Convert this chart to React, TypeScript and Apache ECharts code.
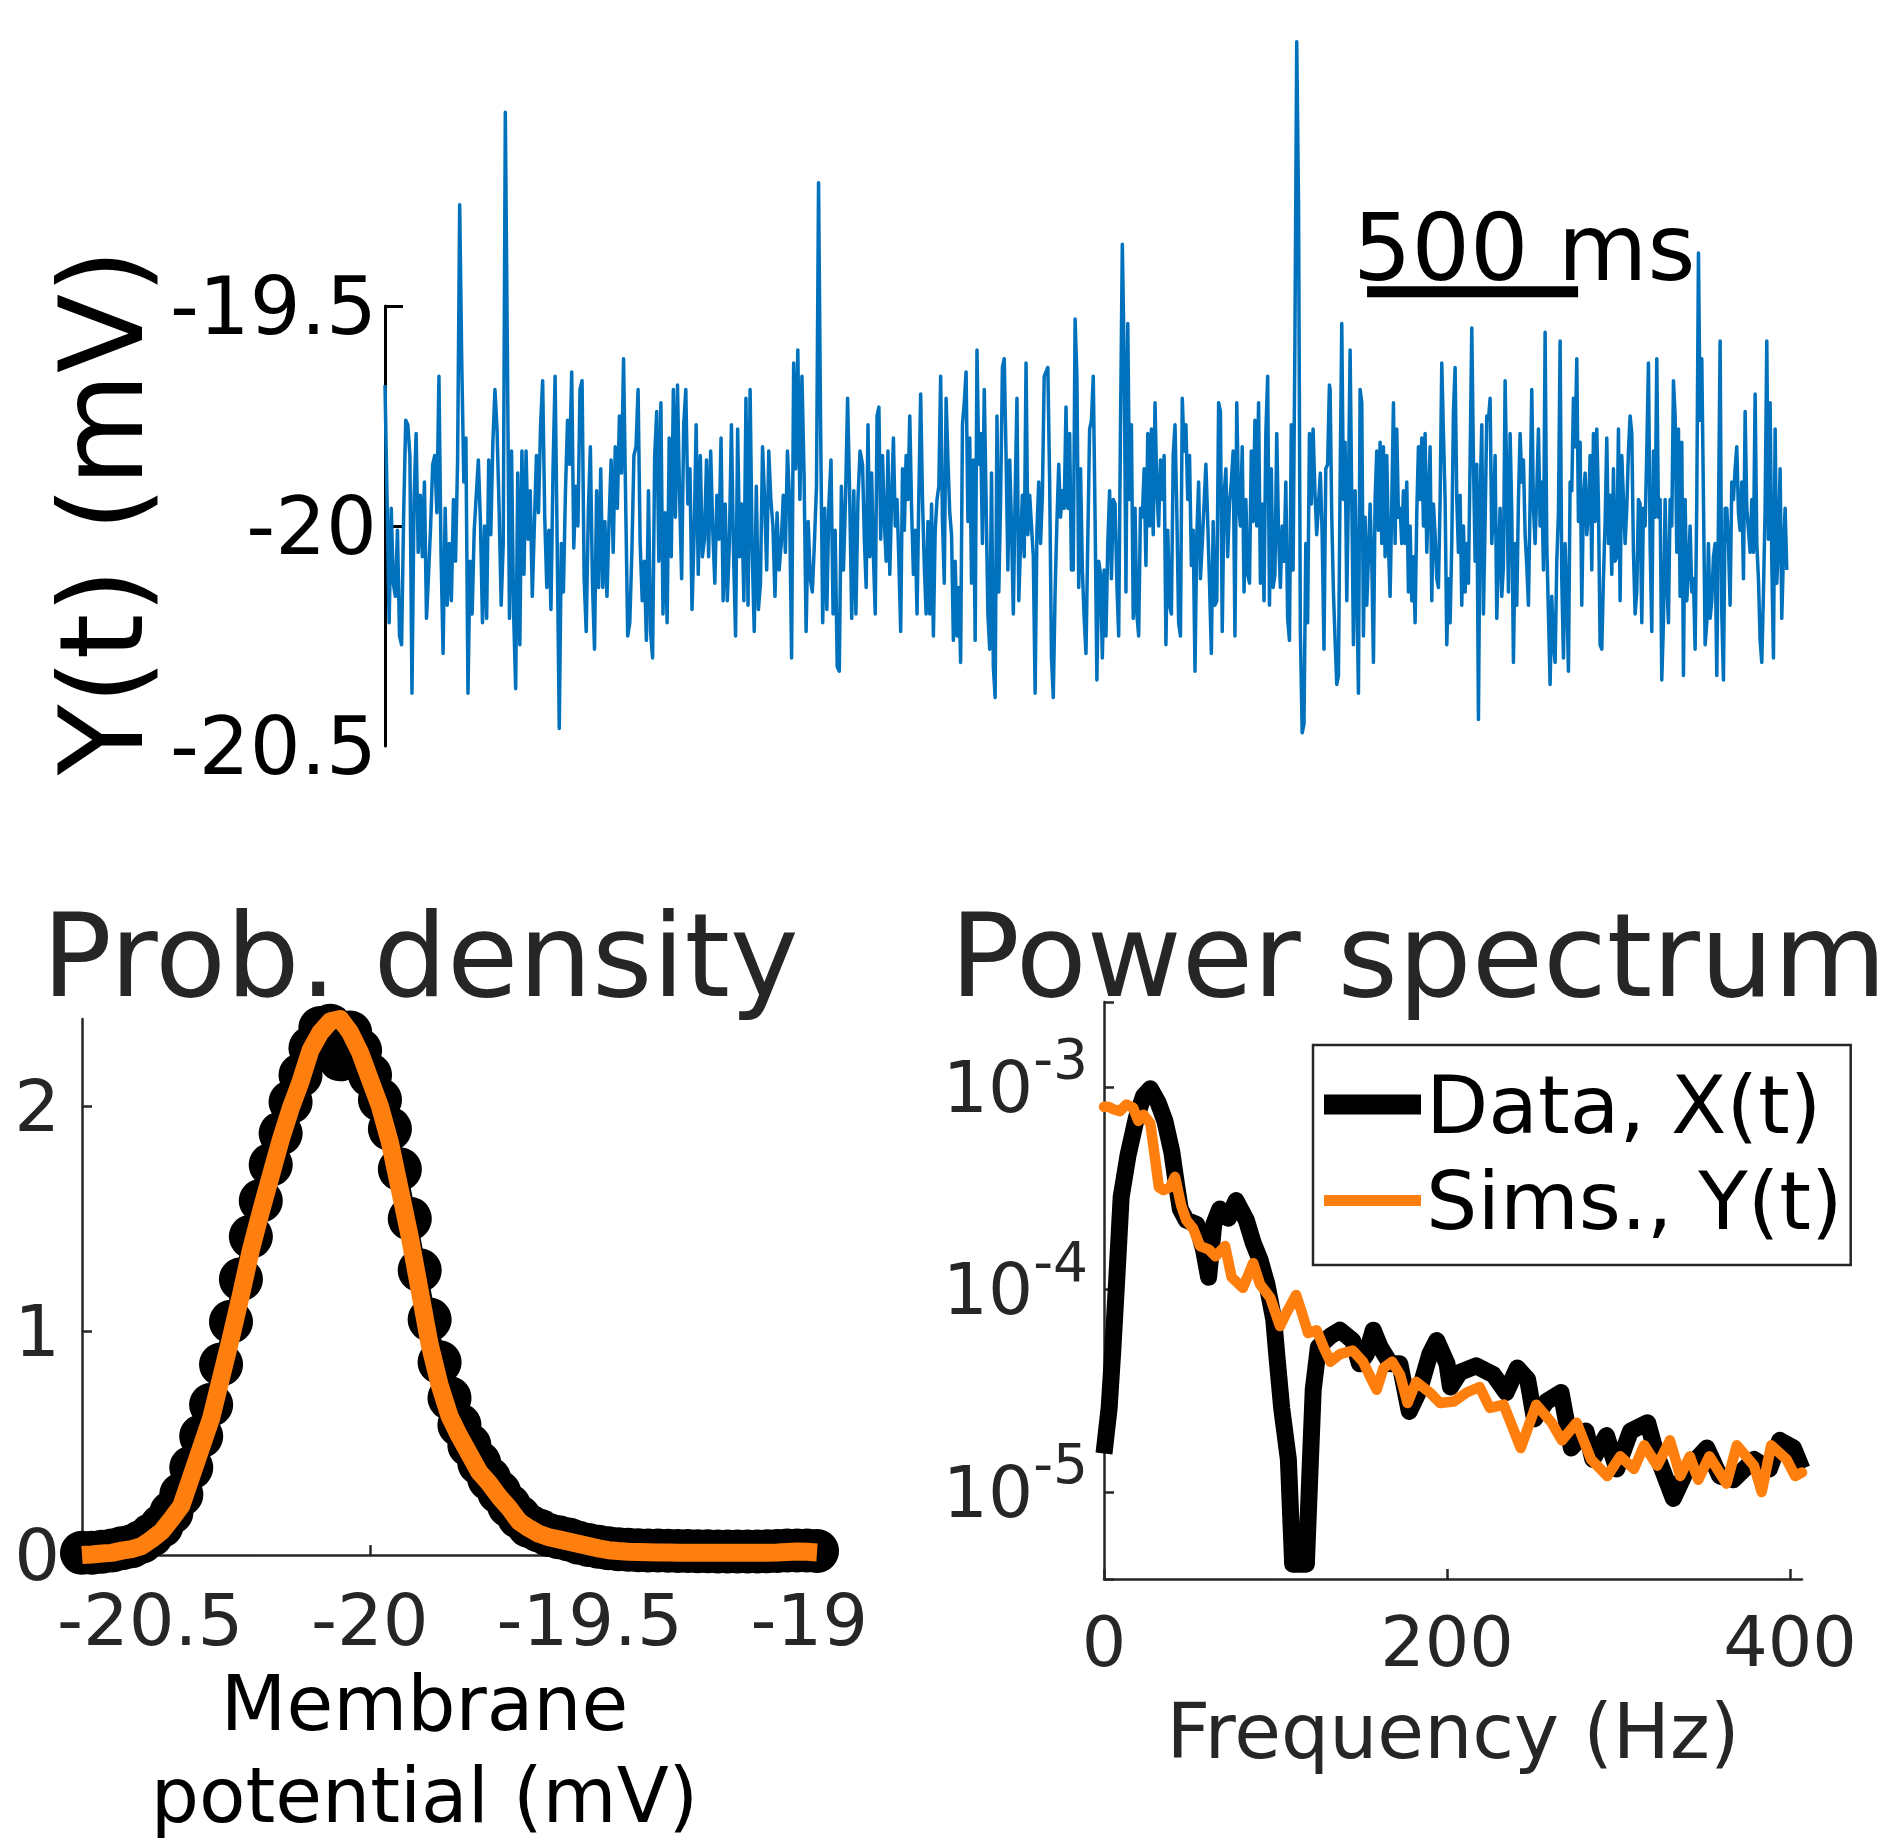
import React, { useEffect, useRef } from 'react';
import * as echarts from 'echarts';

const FONT = 'DejaVu Sans';
const GREY = '#262626';
const BLUE = '#0072BD';
const ORANGE = '#FF7F0E';

// ---- Top panel: simulated trace Y(t) in mV, three consecutive stretches ----
const traceA = [
  -19.68, -19.94, -20.22, -19.96, -20.13, -20.16, -20.01, -20.25, -20.27, -19.97,
  -19.76, -19.77, -19.84, -20.38, -19.94, -19.79, -20.06, -19.93, -20.07, -19.90,
  -20.21, -20.11, -20.00, -19.86, -19.84, -19.97, -19.66, -20.06, -20.29, -19.96,
  -20.18, -20.04, -20.17, -19.94, -20.08, -19.85, -19.27, -19.63, -19.90, -19.80,
  -20.38, -20.08, -20.20, -20.01, -19.93, -19.85, -19.99, -20.22, -20.00, -20.21,
  -19.85, -20.02, -19.81, -19.69, -19.78, -19.96, -20.18, -20.04, -19.06, -19.61,
  -20.21, -19.83, -20.20, -20.37, -19.88, -20.27, -19.83, -20.11, -19.83, -20.03,
  -19.92, -20.16, -20.00, -19.84, -19.97, -19.77, -19.67, -19.98, -20.14, -20.01,
  -20.19, -19.87, -19.66, -20.04, -20.46, -20.04, -20.15, -19.92, -19.76, -19.86,
  -19.65, -20.05, -19.91, -20.00, -19.69, -19.67, -20.12, -20.24, -19.97, -19.82,
  -20.13, -20.28, -19.92, -20.14, -19.87, -20.14, -19.99, -20.16, -19.99, -19.85,
  -20.06, -19.82, -19.96, -19.75, -19.88, -19.62, -19.94, -20.25, -20.22, -20.06,
  -19.84, -19.82, -19.69, -20.04, -20.17, -20.08, -20.26, -19.92, -20.24, -20.30,
  -19.84, -19.74, -20.08, -19.72, -20.20, -19.97, -20.22, -19.80, -20.07, -19.69,
  -19.98, -19.68, -19.93, -20.12, -19.77, -19.69, -19.95, -19.87, -20.19, -20.02,
  -19.77, -20.11, -19.84, -20.07, -20.03, -19.85, -20.07, -19.83, -20.01, -20.13,
  -19.93, -20.03, -19.80, -20.17, -19.95, -20.17, -20.04, -19.77, -20.06, -20.25,
  -19.78, -20.07, -19.95, -20.17, -19.71, -20.18, -19.69, -20.06, -20.24, -19.91,
  -20.19, -20.13, -19.82, -19.94, -20.10, -19.83, -19.94, -20.00, -20.16, -19.97,
  -20.10, -20.04, -19.93, -20.06, -19.83, -19.94, -20.30, -19.63, -19.87, -19.60,
  -19.94, -19.66, -19.88, -20.24, -19.99, -20.12, -20.15, -20.04, -19.91, -19.22,
  -19.78, -20.22, -19.96, -20.19, -19.95, -19.85, -20.20, -20.01, -20.32, -20.33,
  -19.91, -20.10, -19.94, -19.71, -19.93, -20.21, -19.92, -20.20, -19.94, -19.83,
];
const traceASpan = [0, 1125.6];

const traceB = [
  -19.83, -19.86, -20.03, -20.14, -19.77, -20.07, -19.88, -20.07, -20.20, -19.75,
  -19.73, -20.03, -19.84, -19.99, -20.08, -19.83, -20.11, -19.94, -19.80, -20.00,
  -19.94, -20.08, -20.24, -19.87, -20.01, -19.84, -19.94, -19.75, -19.96, -20.11,
  -20.01, -20.20, -19.93, -19.70, -19.94, -20.09, -20.20, -19.99, -20.20, -19.95,
  -20.25, -20.01, -19.94, -19.91, -19.66, -19.99, -20.13, -19.71, -19.85, -19.97,
  -20.02, -20.26, -20.08, -20.25, -20.14, -20.31, -19.77, -19.72, -19.65, -19.99,
  -19.80, -20.13, -19.85, -20.26, -19.60, -19.86, -19.79, -20.04, -19.69, -19.94,
  -20.20, -20.28, -19.88, -20.32, -20.39, -19.75, -20.15, -19.94, -19.64, -19.62,
  -19.84, -20.10, -19.85, -20.00, -20.20, -19.93, -19.71, -20.17, -20.04, -19.93,
  -20.07, -19.63, -20.02, -19.93, -20.00, -20.07, -20.38, -20.01, -19.90, -20.04,
  -19.93, -19.66, -19.65, -19.64, -19.90, -20.30, -20.39, -20.15, -19.99, -19.86,
  -19.98, -19.92, -19.96, -19.73, -19.96, -19.79, -20.10, -20.10, -19.53, -19.66,
  -20.14, -19.87, -20.10, -20.21, -20.29, -20.03, -19.78, -19.76, -19.66, -19.98,
  -20.35, -20.08, -20.11, -20.30, -20.10, -20.25, -20.04, -19.92, -20.12, -19.94,
  -19.95, -20.13, -20.25, -19.77, -19.36, -19.62, -20.15, -19.54, -19.94, -19.77,
  -20.21, -19.96, -20.20, -20.25, -19.96, -19.98, -19.87, -20.09, -19.79, -20.00,
  -19.78, -20.02, -19.72, -19.92, -20.00, -19.85, -19.94, -19.84, -20.27, -20.01,
  -20.18, -20.20, -19.84, -19.77, -19.97, -20.22, -20.25, -19.71, -19.83, -19.77,
  -19.94, -19.84, -20.09, -20.01, -20.33, -20.02, -19.90, -20.12, -20.04, -19.95,
  -19.86, -19.99, -20.13, -20.29, -19.99, -20.18, -20.17, -19.72, -19.74, -20.24,
  -19.93, -19.87, -20.07, -19.95, -19.90, -19.83, -20.25, -19.72, -19.95, -20.00,
  -19.82, -20.15, -19.94, -20.11, -20.13, -19.83, -19.99, -19.76, -20.00, -19.72,
  -20.13, -19.95, -20.17, -19.79, -19.66, -20.18, -19.87, -20.14, -20.11, -19.79,
  -20.02, -20.14, -20.00, -20.08, -19.90, -20.21, -20.26, -19.77, -20.10, -19.58,
  -18.90, -19.27, -20.24, -20.47, -20.45, -20.04, -20.22, -19.79, -19.95, -19.78,
  -19.92, -20.02, -19.95, -19.88, -20.02, -20.28, -19.87, -19.86, -19.68,
];
const traceBSpan = [1127.2, 2237.8];

const traceC = [
  -19.69, -19.98, -20.15, -20.26, -20.36, -20.34, -19.90, -19.54, -19.94, -19.81,
  -20.17, -19.92, -19.60, -19.94, -20.27, -19.92, -20.13, -20.38, -19.69, -19.72,
  -20.25, -19.98, -20.18, -20.07, -19.95, -20.08, -20.31, -19.94, -19.83, -20.01,
  -19.81, -20.04, -19.82, -20.07, -19.84, -20.04, -20.16, -19.95, -19.72, -20.04,
  -19.78, -19.98, -19.96, -20.04, -19.92, -20.04, -19.90, -20.15, -20.00, -20.17,
  -20.07, -20.22, -19.97, -19.82, -19.94, -19.80, -20.00, -19.79, -20.06, -19.94,
  -19.82, -20.17, -19.95, -20.02, -20.12, -20.14, -19.94, -19.63, -19.79, -19.94,
  -20.27, -20.12, -20.22, -20.04, -19.74, -19.64, -19.94, -20.06, -19.93, -20.18,
  -20.00, -20.15, -20.04, -20.13, -19.85, -19.55, -19.85, -20.08, -19.86, -20.44,
  -19.94, -19.77, -20.20, -19.99, -19.75, -19.76, -19.71, -20.04, -19.97, -19.84,
  -20.21, -20.07, -19.96, -20.16, -20.09, -19.67, -19.90, -20.15, -19.79, -19.97,
  -20.31, -20.04, -20.18, -19.94, -19.79, -19.90, -19.85, -20.02, -20.09, -20.18,
  -19.94, -19.69, -19.96, -20.04, -19.92, -19.78, -20.00, -19.90, -20.10, -19.56,
  -20.04, -20.20, -20.36, -20.16, -20.27, -20.31, -20.08, -19.97, -19.58, -20.12,
  -20.30, -20.04, -20.16, -20.33, -19.90, -19.92, -19.71, -19.82, -19.62, -19.99,
  -19.81, -20.18, -19.94, -19.88, -20.02, -19.97, -19.84, -20.10, -19.79, -19.99,
  -19.78, -19.95, -20.27, -20.28, -20.12, -19.99, -19.80, -20.04, -19.93, -20.11,
  -19.87, -20.08, -20.07, -19.78, -20.17, -19.84, -19.94, -20.04, -19.96, -19.83,
  -19.75, -19.79, -20.06, -20.20, -20.15, -19.94, -19.95, -20.22, -19.96, -20.00,
  -19.83, -19.63, -20.04, -20.24, -19.83, -19.98, -19.62, -19.98, -19.94, -20.35,
  -20.22, -19.94, -20.13, -20.22, -19.94, -20.00, -19.67, -19.75, -20.06, -19.78,
  -20.16, -19.81, -20.34, -19.94, -20.17, -20.10, -20.00, -20.15, -20.12, -20.28,
  -19.94, -19.38, -19.76, -19.62, -19.94, -20.27, -20.22, -20.04, -20.21, -20.17,
  -20.07, -20.04, -20.34, -19.98, -19.58, -20.20, -20.35, -19.96, -19.96, -20.04,
  -20.18, -19.90, -19.94, -19.87, -19.82, -19.97, -20.01, -19.90, -20.12, -19.74,
  -19.96, -20.01, -20.06, -19.94, -20.06, -19.70, -20.04, -20.12, -20.26, -20.31,
  -20.15, -19.96, -19.58, -20.03, -19.72, -20.08, -20.30, -19.78, -20.13, -20.04,
  -19.87, -20.21, -20.06, -19.96, -20.10,
];
const traceCSpan = [2239.4, 3321.5];

const scaleBarTimes = [2327, 2827];
const scaleBarLevel = -19.468;
const scaleBarLabel = '500 ms';

// ---- Bottom left: probability density ----
const densityStart = -20.655;
const densityStep = 0.0226;
const dataDensity = [
  0.01, 0.01, 0.015, 0.02, 0.03, 0.04, 0.06, 0.09, 0.13, 0.19,
  0.27, 0.39, 0.53, 0.67, 0.85, 1.04, 1.23, 1.42, 1.58, 1.74,
  1.88, 2.02, 2.14, 2.26, 2.35, 2.36, 2.21, 2.33, 2.25, 2.14,
  2.03, 1.90, 1.72, 1.50, 1.27, 1.05, 0.86, 0.70, 0.58, 0.49,
  0.41, 0.34, 0.28, 0.22, 0.17, 0.13, 0.11, 0.09, 0.08, 0.07,
  0.055, 0.045, 0.037, 0.03, 0.026, 0.024, 0.022, 0.021, 0.02, 0.019,
  0.018, 0.018, 0.017, 0.017, 0.016, 0.016, 0.016, 0.016, 0.016, 0.017,
  0.018, 0.02, 0.021, 0.02, 0.018,
];
const simDensity = [
  0.0, 0.003, 0.007, 0.01, 0.02, 0.027, 0.04, 0.07, 0.105, 0.16,
  0.22, 0.35, 0.48, 0.61, 0.79, 0.97, 1.16, 1.36, 1.53, 1.69,
  1.85, 1.99, 2.11, 2.25, 2.33, 2.38, 2.39, 2.33, 2.24, 2.12,
  2.0, 1.84, 1.63, 1.42, 1.18, 0.94, 0.76, 0.62, 0.53, 0.45,
  0.37, 0.32, 0.26, 0.21, 0.15, 0.12, 0.095, 0.08, 0.07, 0.06,
  0.05, 0.04, 0.03, 0.022, 0.018, 0.015, 0.014, 0.013, 0.012, 0.012,
  0.011, 0.011, 0.01, 0.01, 0.01, 0.01, 0.01, 0.01, 0.01, 0.011,
  0.012, 0.014, 0.016, 0.015, 0.012,
];
const densityTicks = [-20.5, -20, -19.5, -19];
const densityYTicks = [0, 1, 2];

// ---- Bottom right: power spectrum ----
const dataFreq = [
  0, 3, 5, 7.5, 10, 14, 19, 23, 27, 31.5, 35.5, 39.5, 42.5, 44.5, 48, 54, 58, 61, 64, 67.5,
  72.5, 77, 83, 87, 91, 95, 99, 100.7, 103.6, 107.5, 110, 118, 120, 122, 125, 132, 137.5, 145, 149, 153,
  157, 161, 167, 172.5, 178, 184, 190, 194, 200, 202, 207.5, 217, 227, 234.5, 241, 247, 251, 258, 266.5, 272.5,
  281, 285, 293, 299, 307, 317, 322, 332, 340, 351.5, 359, 367, 379, 388, 394, 402, 407,
];
const dataPower = [
  1.55e-5, 2.6e-5, 4.8e-5, 1.15e-4, 2.86e-4, 4.6e-4, 7.1e-4, 9.0e-4, 9.8e-4, 8.4e-4, 6.8e-4, 4.8e-4, 3.2e-4, 2.5e-4, 2.2e-4, 2.1e-4, 1.58e-4, 1.15e-4, 2.1e-4, 2.5e-4,
  2.25e-4, 2.75e-4, 2.2e-4, 1.7e-4, 1.4e-4, 1.06e-4, 7.1e-5, 4.8e-5, 2.6e-5, 1.45e-5, 4.4e-6, 4.4e-6, 1.2e-5, 3.2e-5, 5.2e-5, 5.9e-5, 6.3e-5, 5.6e-5, 4.3e-5, 4.8e-5,
  6.3e-5, 5.2e-5, 4.3e-5, 4.3e-5, 2.5e-5, 3.2e-5, 4.8e-5, 5.6e-5, 4.3e-5, 3.3e-5, 3.9e-5, 4.2e-5, 3.8e-5, 3.1e-5, 4.1e-5, 3.6e-5, 2.3e-5, 2.8e-5, 3.1e-5, 1.65e-5,
  2.0e-5, 1.45e-5, 1.9e-5, 1.3e-5, 2.0e-5, 2.2e-5, 1.55e-5, 9.3e-6, 1.3e-5, 1.65e-5, 1.2e-5, 1.15e-5, 1.45e-5, 1.3e-5, 1.8e-5, 1.65e-5, 1.3e-5,
];
const simFreq = [
  0, 2.5, 5, 9.3, 13, 17, 20, 23, 27, 30, 32, 34.6, 38.5, 41.4, 45, 48, 52, 56, 61, 65,
  70.6, 74.4, 81, 87, 91, 97, 102.6, 106.5, 112, 116, 119, 124, 128, 132, 137.6, 145, 151, 156, 159, 163,
  168, 172.6, 177, 182, 190, 196, 204, 211.5, 219, 225, 233, 243, 252, 261, 267, 275.6, 284, 293.5, 301, 309,
  315, 322.6, 330, 336, 341.6, 346.5, 353, 363, 369, 379, 383.5, 389, 398, 403, 407,
];
const simPower = [
  8.0e-4, 8.0e-4, 7.8e-4, 7.6e-4, 8.2e-4, 7.9e-4, 6.8e-4, 7.3e-4, 6.6e-4, 4.3e-4, 3.2e-4, 3.1e-4, 3.2e-4, 3.6e-4, 2.6e-4, 2.2e-4, 2.0e-4, 1.64e-4, 1.58e-4, 1.46e-4,
  1.64e-4, 1.15e-4, 1.02e-4, 1.35e-4, 1.06e-4, 9.1e-5, 6.6e-5, 7.7e-5, 9.4e-5, 7.4e-5, 6.1e-5, 6.3e-5, 5.2e-5, 4.4e-5, 4.8e-5, 5.0e-5, 4.4e-5, 3.6e-5, 3.2e-5, 4.1e-5,
  4.4e-5, 3.8e-5, 2.75e-5, 3.5e-5, 3.1e-5, 2.75e-5, 2.8e-5, 3.1e-5, 3.3e-5, 2.6e-5, 2.7e-5, 1.65e-5, 2.7e-5, 2.2e-5, 1.8e-5, 2.2e-5, 1.45e-5, 1.2e-5, 1.5e-5, 1.3e-5,
  1.7e-5, 1.35e-5, 1.8e-5, 1.2e-5, 1.5e-5, 1.15e-5, 1.5e-5, 1.1e-5, 1.7e-5, 1.35e-5, 1.0e-5, 1.7e-5, 1.45e-5, 1.2e-5, 1.25e-5,
];
const freqTicks = [0, 200, 400];

function segment(values: number[], span: number[]) {
  const n = values.length;
  return values.map((v, i) => [span[0] + ((span[1] - span[0]) * i) / (n - 1), v]);
}

export default function App() {
  const ref = useRef<HTMLDivElement>(null);

  useEffect(() => {
    if (!ref.current) return;
    const chart = echarts.init(ref.current, undefined, { renderer: 'svg' });

    const traceData = [
      ...segment(traceA, traceASpan),
      ...segment(traceB, traceBSpan),
      ...segment(traceC, traceCSpan),
    ];
    const scaleBarData = scaleBarTimes.map((t) => [t, scaleBarLevel]);
    const dataDensityPts = dataDensity.map((d, i) => [densityStart + i * densityStep, d]);
    const simDensityPts = simDensity.map((d, i) => [densityStart + i * densityStep, d]);
    const densityMax = densityStart + (dataDensity.length - 1) * densityStep;
    const dataSpec = dataFreq.map((f, i) => [f, dataPower[i]]);
    const simSpec = simFreq.map((f, i) => [f, simPower[i]]);

    const greyLine = { color: GREY, width: 2.5 };

    const option: any = {
      animation: false,
      textStyle: { fontFamily: FONT },
      title: [
        {
          text: 'Prob. density',
          left: 37,
          top: 892,
          textStyle: { fontSize: 116, lineHeight: 116, fontWeight: 'normal', color: GREY, fontFamily: FONT },
        },
        {
          text: 'Power spectrum',
          left: 945,
          top: 892,
          textStyle: { fontSize: 116, lineHeight: 116, fontWeight: 'normal', color: GREY, fontFamily: FONT },
        },
      ],
      legend: {
        data: [
          { name: 'Data, X(t)', icon: 'path://M0,0H97V20H0Z' },
          { name: 'Sims., Y(t)', icon: 'path://M0,0H97V11H0Z' },
        ],
        orient: 'vertical',
        left: 1313,
        top: 1045,
        padding: [19, 8, 24, 11],
        itemWidth: 97,
        itemHeight: 20,
        itemGap: 15,
        itemTextGap: 4,
        borderColor: GREY,
        borderWidth: 2.5,
        backgroundColor: '#ffffff',
        selectedMode: false,
        textStyle: { fontSize: 81, lineHeight: 81, color: '#000', fontFamily: FONT },
      },
      grid: [
        { left: 385, top: 33, width: 1402, height: 713 },
        { left: 385, top: 306, width: 1402, height: 440 },
        { left: 82, top: 1019, width: 735, height: 542 },
        { left: 1104, top: 1002, width: 698, height: 577 },
      ],
      xAxis: [
        { gridIndex: 0, type: 'value', min: 0, max: 3322, show: false },
        { gridIndex: 1, type: 'value', min: 0, max: 1, show: false },
        {
          gridIndex: 2,
          type: 'value',
          min: densityStart,
          max: densityMax,
          name: 'Membrane\npotential (mV)',
          nameLocation: 'middle',
          nameGap: 100,
          nameTextStyle: { fontSize: 76, lineHeight: 92, color: '#000', fontFamily: FONT, padding: [0, 50, 0, 0] },
          axisLine: { show: true, lineStyle: greyLine },
          axisTick: { show: true, inside: true, length: 10, customValues: densityTicks, lineStyle: greyLine },
          axisLabel: { customValues: densityTicks, margin: 29, fontSize: 72, lineHeight: 72, color: GREY, fontFamily: FONT },
          splitLine: { show: false },
        },
        {
          gridIndex: 3,
          type: 'value',
          min: 0,
          max: 407,
          name: 'Frequency (Hz)',
          nameLocation: 'middle',
          nameGap: 114,
          nameTextStyle: { fontSize: 76, lineHeight: 76, color: GREY, fontFamily: FONT },
          axisLine: { show: true, lineStyle: greyLine },
          axisTick: { show: true, inside: true, length: 10, customValues: freqTicks, lineStyle: greyLine },
          axisLabel: { customValues: freqTicks, margin: 28, fontSize: 70, lineHeight: 70, color: GREY, fontFamily: FONT },
          splitLine: { show: false },
        },
      ],
      yAxis: [
        { gridIndex: 0, type: 'value', min: -20.5, max: -18.88, show: false },
        {
          gridIndex: 1,
          type: 'value',
          min: -20.5,
          max: -19.5,
          name: 'Y(t) (mV)',
          nameLocation: 'middle',
          nameRotate: 90,
          nameGap: 226,
          nameTextStyle: { fontSize: 116, lineHeight: 116, color: '#000', fontFamily: FONT, padding: [0, 0, 0, 28] },
          axisLine: { show: true, lineStyle: { color: '#000', width: 3 } },
          axisTick: { show: true, inside: true, length: 18, customValues: [-20, -19.5], lineStyle: { color: '#000', width: 3 } },
          axisLabel: { customValues: [-20.5, -20, -19.5], margin: 8, fontSize: 80, lineHeight: 80, color: '#000', fontFamily: FONT },
          splitLine: { show: false },
        },
        {
          gridIndex: 2,
          type: 'value',
          min: 0,
          max: 2.39,
          axisLine: { show: true, lineStyle: greyLine },
          axisTick: { show: true, inside: true, length: 10, customValues: densityYTicks, lineStyle: greyLine },
          axisLabel: { customValues: densityYTicks, margin: 22, fontSize: 72, lineHeight: 72, color: GREY, fontFamily: FONT },
          splitLine: { show: false },
        },
        {
          gridIndex: 3,
          type: 'log',
          logBase: 10,
          min: 3.72e-6,
          max: 2.63e-3,
          axisLine: { show: true, lineStyle: greyLine },
          axisTick: { show: true, inside: true, length: 10, lineStyle: greyLine },
          axisLabel: {
            margin: 16,
            formatter: (v: number) => {
              const e = Math.log10(v);
              const r = Math.round(e);
              if (Math.abs(e - r) > 1e-6) return '';
              return `{b|10}{s|${r}}`;
            },
            rich: {
              b: { fontSize: 71, lineHeight: 71, color: GREY, fontFamily: FONT, verticalAlign: 'middle' },
              s: { fontSize: 55, lineHeight: 55, color: GREY, fontFamily: FONT, verticalAlign: 'middle', padding: [0, 0, 56, 0] },
            },
          },
          splitLine: { show: false },
        },
      ],
      series: [
        {
          name: 'Y(t) trace',
          type: 'line',
          xAxisIndex: 0,
          yAxisIndex: 0,
          data: traceData,
          showSymbol: false,
          lineStyle: { color: BLUE, width: 3.5, join: 'round' },
          itemStyle: { color: BLUE },
          silent: true,
          z: 2,
        },
        {
          name: 'scale bar',
          type: 'line',
          xAxisIndex: 0,
          yAxisIndex: 0,
          data: scaleBarData,
          showSymbol: false,
          lineStyle: { color: '#000', width: 11 },
          itemStyle: { color: '#000' },
          silent: true,
          z: 3,
        },
        {
          name: 'density data',
          type: 'line',
          xAxisIndex: 2,
          yAxisIndex: 2,
          data: dataDensityPts,
          symbol: 'circle',
          symbolSize: 44,
          showSymbol: true,
          clip: false,
          lineStyle: { color: '#000', width: 14 },
          itemStyle: { color: '#000' },
          silent: true,
          z: 3,
        },
        {
          name: 'density sims',
          type: 'line',
          xAxisIndex: 2,
          yAxisIndex: 2,
          data: simDensityPts,
          showSymbol: false,
          clip: false,
          lineStyle: { color: ORANGE, width: 18, join: 'round' },
          itemStyle: { color: ORANGE },
          silent: true,
          z: 4,
        },
        {
          name: 'Data, X(t)',
          type: 'line',
          xAxisIndex: 3,
          yAxisIndex: 3,
          data: dataSpec,
          showSymbol: false,
          lineStyle: { color: '#000', width: 17, join: 'round' },
          itemStyle: { color: '#000' },
          color: '#000',
          silent: true,
          z: 3,
        },
        {
          name: 'Sims., Y(t)',
          type: 'line',
          xAxisIndex: 3,
          yAxisIndex: 3,
          data: simSpec,
          showSymbol: false,
          lineStyle: { color: ORANGE, width: 10.5, join: 'round', cap: 'round' },
          itemStyle: { color: ORANGE },
          color: ORANGE,
          silent: true,
          z: 4,
        },
      ],
      graphic: [
        {
          type: 'text',
          x: 1353,
          y: 248,
          z: 10,
          style: {
            text: scaleBarLabel,
            font: `92px ${FONT}`,
            fill: '#000',
            align: 'left',
            verticalAlign: 'middle',
          },
        },
      ],
    };

    chart.setOption(option);
    return () => chart.dispose();
  }, []);

  return (
    <div
      ref={ref}
      style={{ position: 'absolute', left: 0, top: 0, width: 1897, height: 1842, background: '#fff' }}
    />
  );
}
